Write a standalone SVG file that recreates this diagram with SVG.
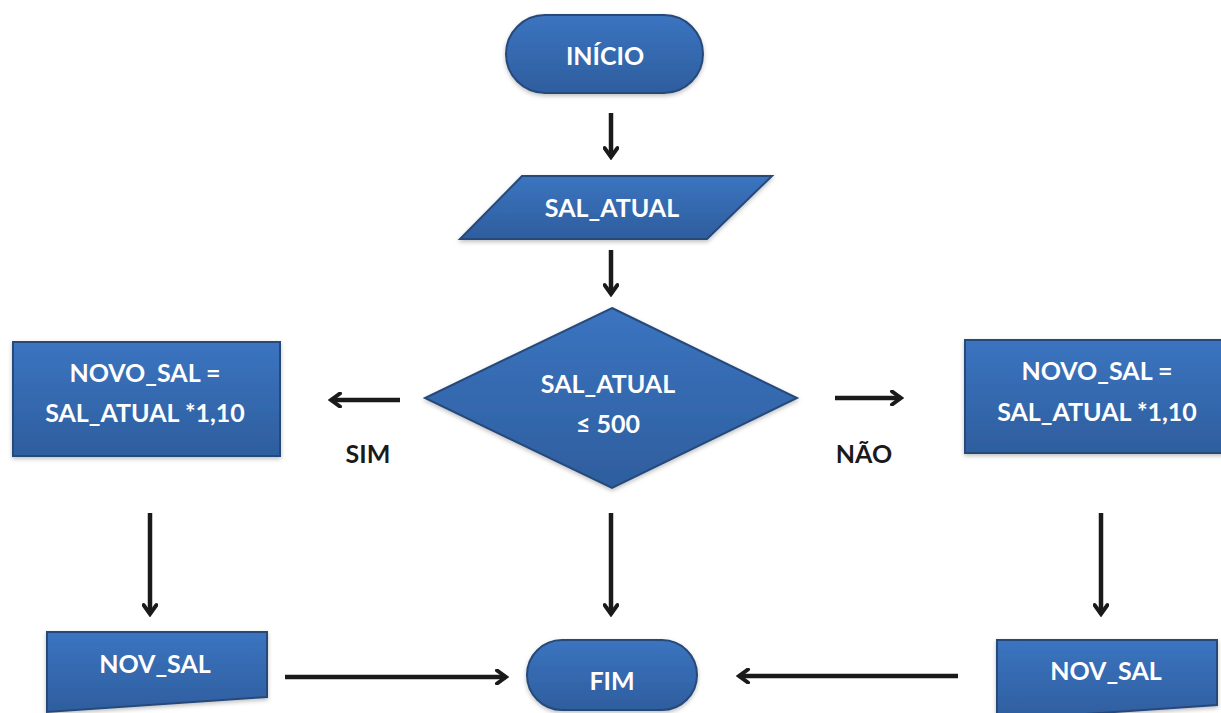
<svg xmlns="http://www.w3.org/2000/svg" width="1221" height="713" viewBox="0 0 1221 713">
<defs>
<linearGradient id="blue" x1="0" y1="0" x2="0" y2="1">
<stop offset="0" stop-color="#3b74c0"/>
<stop offset="1" stop-color="#2e5e9e"/>
</linearGradient>
<marker id="arr" viewBox="0 0 16 16" refX="13" refY="8" markerWidth="16" markerHeight="16" markerUnits="userSpaceOnUse" orient="auto">
<path d="M4,1.5 L13,8 L4,14.5" fill="none" stroke="#1a1a1a" stroke-width="4" stroke-linecap="round" stroke-linejoin="miter"/>
</marker>
<filter id="sh" x="-10%" y="-10%" width="120%" height="130%">
<feDropShadow dx="0" dy="2" stdDeviation="2" flood-color="#000" flood-opacity="0.25"/>
</filter>
</defs>
<style>
.n{fill:url(#blue);stroke:#27497a;stroke-width:2;filter:url(#sh)}
.t{font-family:Lato,"Open Sans","Liberation Sans",sans-serif;font-weight:bold;font-size:25px;fill:#ffffff;text-anchor:middle;dominant-baseline:central}
.l{font-family:Lato,"Open Sans","Liberation Sans",sans-serif;font-weight:bold;font-size:25px;fill:#1a1a1a;text-anchor:middle;dominant-baseline:central}
.c{fill:none;stroke:#1a1a1a;stroke-width:4.5;marker-end:url(#arr)}
</style>
<rect width="1221" height="713" fill="#ffffff"/>
<g id="inicio">
<rect class="n" x="506" y="15" width="197" height="78" rx="39" ry="39"/>
<text class="t" x="605" y="55">INÍCIO</text>
</g>
<g id="entrada">
<polygon class="n" points="522,176 772,176 707,239 460,239"/>
<text class="t" x="612" y="207">SAL_ATUAL</text>
</g>
<g id="decisao">
<polygon class="n" points="612,308 797,398 612,488 425,398"/>
<text class="t" x="608" y="383">SAL_ATUAL</text>
<text class="t" x="608" y="423">≤ 500</text>
</g>
<g id="proc_sim">
<rect class="n" x="13" y="342" width="267" height="114"/>
<text class="t" x="145" y="372">NOVO_SAL =</text>
<text class="t" x="145" y="412">SAL_ATUAL *1,10</text>
</g>
<g id="proc_nao">
<rect class="n" x="965" y="340" width="260" height="113"/>
<text class="t" x="1097" y="370">NOVO_SAL =</text>
<text class="t" x="1097" y="411">SAL_ATUAL *1,10</text>
</g>
<g id="saida_sim">
<path class="n" d="M47,632 L267,632 L267,697 C220,700 150,705 47,712 Z"/>
<text class="t" x="155" y="663">NOV_SAL</text>
</g>
<g id="fim">
<rect class="n" x="527" y="640" width="170" height="70" rx="35" ry="35"/>
<text class="t" x="612" y="680">FIM</text>
</g>
<g id="saida_nao">
<path class="n" d="M997,640 L1217,640 L1217,705 C1170,708 1100,713 997,720 Z"/>
<text class="t" x="1106" y="670">NOV_SAL</text>
</g>
<g id="connectors">
<line class="c" x1="611" y1="113" x2="611" y2="157"/>
<line class="c" x1="611" y1="250" x2="611" y2="294"/>
<line class="c" x1="400" y1="400" x2="331" y2="400"/>
<line class="c" x1="835" y1="398" x2="901" y2="398"/>
<line class="c" x1="150" y1="513" x2="150" y2="614"/>
<line class="c" x1="611" y1="513" x2="611" y2="614"/>
<line class="c" x1="1101" y1="513" x2="1101" y2="614"/>
<line class="c" x1="285" y1="677" x2="506" y2="677"/>
<line class="c" x1="958" y1="676" x2="739" y2="676"/>
</g>
<g id="labels">
<text class="l" x="368" y="453">SIM</text>
<text class="l" x="864" y="453">NÃO</text>
</g>
</svg>
